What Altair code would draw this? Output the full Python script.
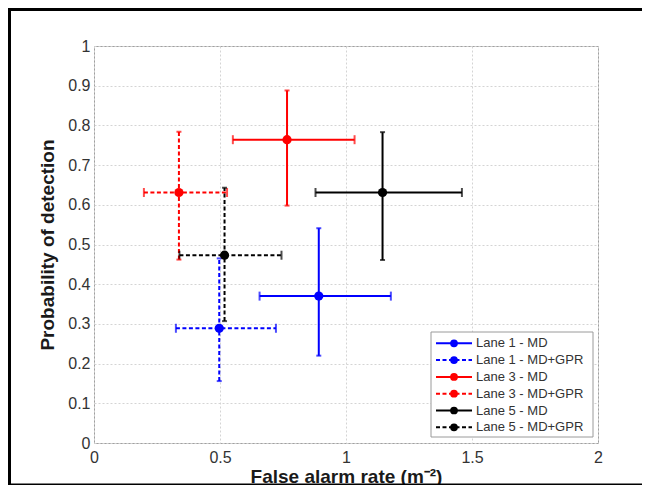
import altair as alt
import pandas as pd

# ---- data ----
series = ["Lane 1 - MD", "Lane 1 - MD+GPR", "Lane 3 - MD", "Lane 3 - MD+GPR",
          "Lane 5 - MD", "Lane 5 - MD+GPR"]
kinds = ["MD", "MD+GPR", "MD", "MD+GPR", "MD", "MD+GPR"]
far = [0.892, 0.497, 0.766, 0.337, 1.145, 0.518]
far_lo = [0.657, 0.325, 0.551, 0.198, 0.879, 0.339]
far_hi = [1.178, 0.722, 1.034, 0.528, 1.460, 0.744]
pd_ = [0.370, 0.289, 0.764, 0.631, 0.631, 0.473]
pd_lo = [0.220, 0.156, 0.598, 0.462, 0.461, 0.307]
pd_hi = [0.541, 0.465, 0.888, 0.784, 0.783, 0.643]

x_ticks = [0, 0.5, 1, 1.5, 2]
y_ticks = [0, 0.1, 0.2, 0.3, 0.4, 0.5, 0.6, 0.7, 0.8, 0.9, 1]

colors = ["#0000ff", "#0000ff", "#ff0000", "#ff0000", "#000000", "#000000"]

df = pd.DataFrame({
    "series": series, "kind": kinds,
    "x": far, "xlo": far_lo, "xhi": far_hi,
    "y": pd_, "ylo": pd_lo, "yhi": pd_hi,
})
leg = pd.DataFrame({"series": series, "kind": kinds, "idx": list(range(len(series)))})

W, H = 504, 397
FONT = "Liberation Sans"

xs = alt.Scale(domain=[0, 2], nice=False)
ys = alt.Scale(domain=[0, 1], nice=False)
cs = alt.Scale(domain=series, range=colors)
ds = alt.Scale(domain=["MD", "MD+GPR"], range=[[1, 0], [4, 2.5]])

color = alt.Color("series:N", scale=cs, legend=None)
dash = alt.StrokeDash("kind:N", scale=ds, legend=None)

x_axis = alt.Axis(
    values=x_ticks, labelExpr="datum.value", title="False alarm rate (m⁻²)",
    grid=True, ticks=False, domain=False, labelPadding=6, titlePadding=2,
    labelOverlap=False, labelFlush=False)
y_axis = alt.Axis(
    values=y_ticks, labelExpr="datum.value", title="Probability of detection",
    grid=True, ticks=False, domain=False, labelPadding=4, titlePadding=10,
    labelOverlap=False, labelFlush=False)


def X(f):
    return alt.X(f, scale=xs, axis=x_axis)


def Y(f):
    return alt.Y(f, scale=ys, axis=y_axis)


base = alt.Chart(df)

hbar = base.mark_rule(strokeWidth=2).encode(
    x=X("xlo:Q"), x2="xhi:Q", y=Y("y:Q"), color=color, strokeDash=dash)

vbar = base.mark_rule(strokeWidth=2).encode(
    x=X("x:Q"), y=Y("ylo:Q"), y2="yhi:Q", color=color, strokeDash=dash)

hcaps = base.transform_fold(["xlo", "xhi"], as_=["end", "xe"]).mark_tick(
    orient="vertical", size=9, thickness=2).encode(
    x=X("xe:Q"), y=Y("y:Q"), color=color)

vcaps = base.transform_fold(["ylo", "yhi"], as_=["end", "ye"]).mark_tick(
    orient="horizontal", size=5, thickness=2).encode(
    x=X("x:Q"), y=Y("ye:Q"), color=color)

pts = base.mark_circle(size=85, opacity=1).encode(
    x=X("x:Q"), y=Y("y:Q"), color=color)

# ---- manual legend (pixel layout) ----
lb = alt.Chart(alt.Data(values=[{}])).mark_rect(
    fill="white", stroke="#9a9a9a", strokeWidth=1).encode(
    x=alt.value(337), x2=alt.value(499), y=alt.value(286), y2=alt.value(391))

lbase = alt.Chart(leg).transform_calculate(ly="297.3 + datum.idx * 16.8")
llines = lbase.mark_rule(strokeWidth=2).encode(
    x=alt.value(342), x2=alt.value(378), y=alt.Y("ly:Q", scale=None),
    color=color, strokeDash=dash)
lpts = lbase.mark_circle(size=60, opacity=1).encode(
    x=alt.value(360), y=alt.Y("ly:Q", scale=None), color=color)
ltext = lbase.mark_text(align="left", baseline="middle", font=FONT, fontSize=13,
                        color="#333333").encode(
    x=alt.value(382), y=alt.Y("ly:Q", scale=None), text="series:N")

# ---- outer black frame ----
one = alt.Data(values=[{}])
ftop = alt.Chart(one).mark_rule(color="black", strokeWidth=3).encode(
    x=alt.value(-90), x2=alt.value(560), y=alt.value(-36.5))
fleft = alt.Chart(one).mark_rule(color="black", strokeWidth=3).encode(
    x=alt.value(-84.5), y=alt.value(-38), y2=alt.value(440))
fbot = alt.Chart(one).mark_rule(color="black", strokeWidth=2).encode(
    x=alt.value(-90), x2=alt.value(560), y=alt.value(438.5))

chart = alt.layer(
    hbar, vbar, hcaps, vcaps, pts, lb, llines, lpts, ltext, ftop, fleft, fbot
).properties(
    width=W, height=H,
    autosize=alt.AutoSizeParams(type="none"),
    padding={"left": 86, "top": 38, "right": 44, "bottom": 42},
    background="white",
).configure_view(
    stroke="#a0a0a0", strokeWidth=1
).configure_axis(
    labelFont=FONT, labelFontSize=16, labelColor="#333333",
    titleFont=FONT, titleFontSize=19, titleFontWeight="bold", titleColor="#1a1a1a",
    gridColor="#d4d4d4", gridDash=[2, 2], gridWidth=1,
)

chart.save("out.html", embed_options={"renderer": "svg", "actions": False})
